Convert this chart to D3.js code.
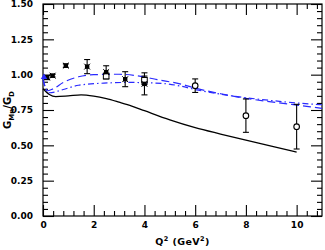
<!DOCTYPE html>
<html>
<head>
<meta charset="utf-8">
<script src="https://cdn.jsdelivr.net/npm/d3@7"></script>
<style>
  body { margin: 0; background: #fff; }
  svg text { font-family: "DejaVu Sans", sans-serif; font-weight: bold; }
</style>
</head>
<body>
<div id="chart"></div>
<script>
// curves: [Q2, G_Mn/G_D]
const solidCurve = [[0,0.90],[0.25,0.86],[0.5,0.845],[1,0.85],[1.5,0.857],[2,0.848],[2.5,0.83],[3,0.805],[3.5,0.778],[4,0.745],[5,0.68],[6,0.625],[7,0.58],[8,0.537],[9,0.495],[10,0.452]];
const dashedCurve = [[0,0.975],[0.15,0.885],[0.4,0.9],[0.8,0.945],[1.4,0.985],[2,1.0],[3,1.003],[3.8,0.99],[4.5,0.965],[5.4,0.935],[6,0.905],[7,0.865],[8,0.832],[9,0.808],[10,0.785],[11,0.762]];
const dashDotCurve = [[0,0.96],[0.25,0.872],[0.8,0.895],[1.4,0.925],[2.4,0.94],[3.4,0.945],[4.7,0.938],[5.4,0.92],[6,0.895],[7,0.862],[8,0.837],[9,0.817],[10,0.80],[11,0.787]];

// data points: [Q2, value, error]
const filledPts = [[0.16,0.98,0.015],[0.38,0.993,0.01],[0.9,1.064,0.012],[1.74,1.057,0.05],[2.49,1.018,0.045],[3.24,0.968,0.053],[4.0,0.935,0.078]];
const squarePts = [[2.49,0.99,0.02],[4.0,0.96,0.03]];
const circlePts = [[6,0.922,0.048],[8,0.71,0.118],[10,0.632,0.158]];
const trianglePts = [[0.04,0.982]];

const xMajor = [0, 2, 4, 6, 8, 10];
const yMajor = [0, 0.25, 0.5, 0.75, 1.0, 1.25, 1.5];

const W = 325, H = 250;
const m = {left: 43, right: 3, top: 4, bottom: 34};

const svg = d3.select('#chart').append('svg')
  .attr('width', W)
  .attr('height', H);

const x = d3.scaleLinear().domain([0, 11]).range([m.left, W - m.right]);
const y = d3.scaleLinear().domain([0, 1.5]).range([H - m.bottom, m.top]);

const xMinor = d3.range(0, 11.001, 0.4).filter(v => !xMajor.some(t => Math.abs(t - v) < 1e-6));
const yMinor = d3.range(0, 1.5001, 0.05).filter(v => !yMajor.some(t => Math.abs(t - v) < 1e-6));

// axes, ticks inside on all four sides
function addAxis(axisFn, scale, ticks, size, transform, labels) {
  const g = svg.append('g')
    .attr('transform', transform)
    .call(axisFn(scale).tickValues(ticks).tickSize(-size).tickPadding(6)
      .tickFormat(labels ? labels : ''));
  g.select('.domain').remove();
  g.selectAll('line').attr('stroke', '#000').attr('stroke-width', 1.1);
  return g;
}

const bottomY = H - m.bottom, rightX = W - m.right;
const gx = addAxis(d3.axisBottom, x, xMajor, 11, `translate(0,${bottomY})`, d3.format('d'));
addAxis(d3.axisBottom, x, xMinor, 5, `translate(0,${bottomY})`);
addAxis(d3.axisTop, x, xMajor, -11, `translate(0,${m.top})`).selectAll('line').attr('y2', 11);
addAxis(d3.axisTop, x, xMinor, -5, `translate(0,${m.top})`).selectAll('line').attr('y2', 5);
const gy = addAxis(d3.axisLeft, y, yMajor, 11, `translate(${m.left},0)`, d3.format('.2f'));
addAxis(d3.axisLeft, y, yMinor, 5, `translate(${m.left},0)`);
addAxis(d3.axisRight, y, yMajor, -11, `translate(${rightX},0)`).selectAll('line').attr('x2', -11);
addAxis(d3.axisRight, y, yMinor, -5, `translate(${rightX},0)`).selectAll('line').attr('x2', -5);

gx.selectAll('text').attr('font-size', 9).attr('fill', '#000').attr('dy', '0.9em')
  .attr('transform', 'translate(0,-11)').attr('y', 15);
gy.selectAll('text').attr('font-size', 9).attr('fill', '#000')
  .attr('transform', 'translate(11,0)').attr('x', -21);

// frame
svg.append('rect')
  .attr('x', m.left).attr('y', m.top)
  .attr('width', rightX - m.left).attr('height', bottomY - m.top)
  .attr('fill', 'none').attr('stroke', '#000').attr('stroke-width', 1.2);

// curves
const line = d3.line().x(d => x(d[0])).y(d => y(d[1])).curve(d3.curveMonotoneX);
svg.append('path').datum(solidCurve).attr('d', line)
  .attr('fill', 'none').attr('stroke', '#000').attr('stroke-width', 1.3);
svg.append('path').datum(dashedCurve).attr('d', line)
  .attr('fill', 'none').attr('stroke', '#2a2aff').attr('stroke-width', 1.2)
  .attr('stroke-dasharray', '8,4');
svg.append('path').datum(dashDotCurve).attr('d', line)
  .attr('fill', 'none').attr('stroke', '#2a2aff').attr('stroke-width', 1.2)
  .attr('stroke-dasharray', '6,3,1.5,3');

// error bars
function errorBars(data) {
  const g = svg.append('g').attr('stroke', '#000').attr('stroke-width', 1.1);
  data.forEach(d => {
    const cx = x(d[0]), y0 = y(d[1] - d[2]), y1 = y(d[1] + d[2]);
    g.append('line').attr('x1', cx).attr('x2', cx).attr('y1', y0).attr('y2', y1);
    g.append('line').attr('x1', cx - 3).attr('x2', cx + 3).attr('y1', y0).attr('y2', y0);
    g.append('line').attr('x1', cx - 3).attr('x2', cx + 3).attr('y1', y1).attr('y2', y1);
  });
}
errorBars(circlePts);
errorBars(squarePts);
errorBars(filledPts);

// markers
svg.append('g').selectAll('circle').data(circlePts).join('circle')
  .attr('cx', d => x(d[0])).attr('cy', d => y(d[1])).attr('r', 2.8)
  .attr('fill', '#fff').attr('stroke', '#000').attr('stroke-width', 1.1);
svg.append('g').selectAll('rect').data(squarePts).join('rect')
  .attr('x', d => x(d[0]) - 2.8).attr('y', d => y(d[1]) - 2.8)
  .attr('width', 5.6).attr('height', 5.6)
  .attr('fill', '#fff').attr('stroke', '#000').attr('stroke-width', 1);
const filledG = svg.append('g').selectAll('g').data(filledPts).join('g')
  .attr('transform', d => `translate(${x(d[0])},${y(d[1])})`);
filledG.append('rect').attr('x', -2.2).attr('y', -2.2).attr('width', 4.4).attr('height', 4.4)
  .attr('fill', '#000');
filledG.append('path').attr('d', d3.symbol().type(d3.symbolTimes).size(24))
  .attr('fill', '#000').attr('stroke', '#000').attr('stroke-width', 1);
svg.append('g').selectAll('path').data(trianglePts).join('path')
  .attr('transform', d => `translate(${x(d[0])},${y(d[1])})`)
  .attr('d', d3.symbol().type(d3.symbolTriangle).size(18)).attr('fill', '#2a2aff');

// axis titles
const xt = svg.append('text')
  .attr('x', (m.left + rightX) / 2).attr('y', 245)
  .attr('text-anchor', 'middle').attr('font-size', 9.5).attr('letter-spacing', 0.4);
xt.append('tspan').text('Q');
xt.append('tspan').attr('dy', -4).attr('font-size', 6.5).text('2');
xt.append('tspan').attr('dy', 4).text(' (GeV');
xt.append('tspan').attr('dy', -4).attr('font-size', 6.5).text('2');
xt.append('tspan').attr('dy', 4).text(')');

const yt = svg.append('text')
  .attr('transform', `translate(11,${(m.top + bottomY) / 2}) rotate(-90)`)
  .attr('text-anchor', 'middle').attr('font-size', 10);
yt.append('tspan').text('G');
yt.append('tspan').attr('dy', 2.5).attr('font-size', 7).text('Mn');
yt.append('tspan').attr('dy', -2.5).text('/G');
yt.append('tspan').attr('dy', 2.5).attr('font-size', 7).text('D');
</script>
</body>
</html>
